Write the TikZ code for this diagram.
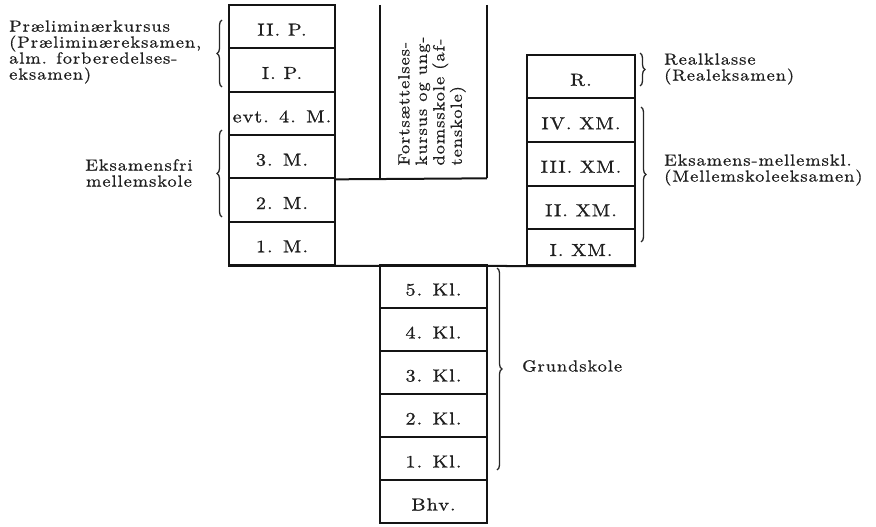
\documentclass[tikz,border=0pt]{standalone}
\usepackage{fontspec}
\newfontfamily\lms{lmroman10-regular.otf}[LetterSpace=6,FakeStretch=1.15,FakeBold=0.8]
\usetikzlibrary{decorations.pathreplacing}
\tikzset{
  boxline/.style={line width=2pt, draw=black!92},
  cellbase/.style={boxline, draw, inner sep=0pt, text height=18pt, text depth=0pt,
    font=\lms\fontsize{17.5}{18}\selectfont, text=black!88},
  lcell/.style={cellbase, minimum width=106pt, minimum height=43.33pt},
  rcell/.style={cellbase, minimum width=108pt, minimum height=43.5pt},
  bcell/.style={cellbase, minimum width=107pt, minimum height=43pt},
  sidetext/.style={inner sep=0pt, text=black!88, font=\lms\fontsize{16}{16}\selectfont},
  curly/.style={line width=1.3pt, draw=black!85, decorate, decoration={brace, amplitude=5pt}},
}
\begin{document}
\begin{tikzpicture}[x=1pt, y=-1pt]
\useasboundingbox (0,0) rectangle (876,527);
% left column
\node[lcell] (p2) at (282,26.67) {II. P.};
\node[lcell] (p1) at (282,70) {I. P.};
\node[lcell] (m4) at (282,113.33) {evt. 4. M.};
\node[lcell] (m3) at (282,156.67) {3. M.};
\node[lcell] (m2) at (282,200) {2. M.};
\node[lcell] (m1) at (282,243.33) {1. M.};
% right column
\node[rcell] (r) at (581,76.75) {R.};
\node[rcell] (x4) at (581,120.25) {IV. XM.};
\node[rcell] (x3) at (581,163.75) {III. XM.};
\node[rcell] (x2) at (581,207.25) {II. XM.};
\node[rcell, minimum height=36pt] (x1) at (581,247) {I. XM.};
% bottom column
\node[bcell] (k5) at (433.5,286.5) {5. Kl.};
\node[bcell] (k4) at (433.5,329.5) {4. Kl.};
\node[bcell] (k3) at (433.5,372.5) {3. Kl.};
\node[bcell] (k2) at (433.5,415.5) {2. Kl.};
\node[bcell] (k1) at (433.5,458.5) {1. Kl.};
\node[bcell] (bh) at (433.5,501.5) {Bhv.};
% continuation school column
\coordinate (ftl) at (380,5);
\coordinate (ftr) at (487,5);
\coordinate (fbl) at (380,178.33);
\coordinate (fbr) at (487,178.33);
\draw[boxline] (ftl) -- (fbl);
\draw[boxline] (ftr) -- (fbr);
\draw[boxline] (m3.south east) -- (fbr);
\node[rotate=90, align=left, inner sep=0pt, text=black!88, font=\lms\fontsize{16}{17.5}\selectfont] (fk) at (432,101)
  {Fortsættelses-\\kursus og ung-\\domsskole (af-\\tenskole)};
% long base line
\draw[boxline] (m1.south west) -- (x1.south east);
% braces and labels
\draw[curly] (222,87) -- (222,20);
\node[sidetext, anchor=west, align=left] (pl) at (9,52)
  {Præliminærkursus\\(Præliminæreksamen,\\alm. forberedelses-\\eksamen)};
\draw[curly] (222,217) -- (222,130);
\node[sidetext, align=center] (ef) at (139,173) {Eksamensfri\\mellemskole};
\draw[curly] (640,53) -- (640,86);
\node[sidetext, anchor=west, align=left] (rk) at (664,69) {Realklasse\\(Realeksamen)};
\draw[curly] (641,107) -- (641,242);
\node[sidetext, anchor=west, align=left] (em) at (664,170) {Eksamens-mellemskl.\\(Mellemskoleeksamen)};
\draw[curly] (497,268) -- (497,470);
\node[sidetext, anchor=west] (gs) at (522,366) {Grundskole};
\end{tikzpicture}
\end{document}
